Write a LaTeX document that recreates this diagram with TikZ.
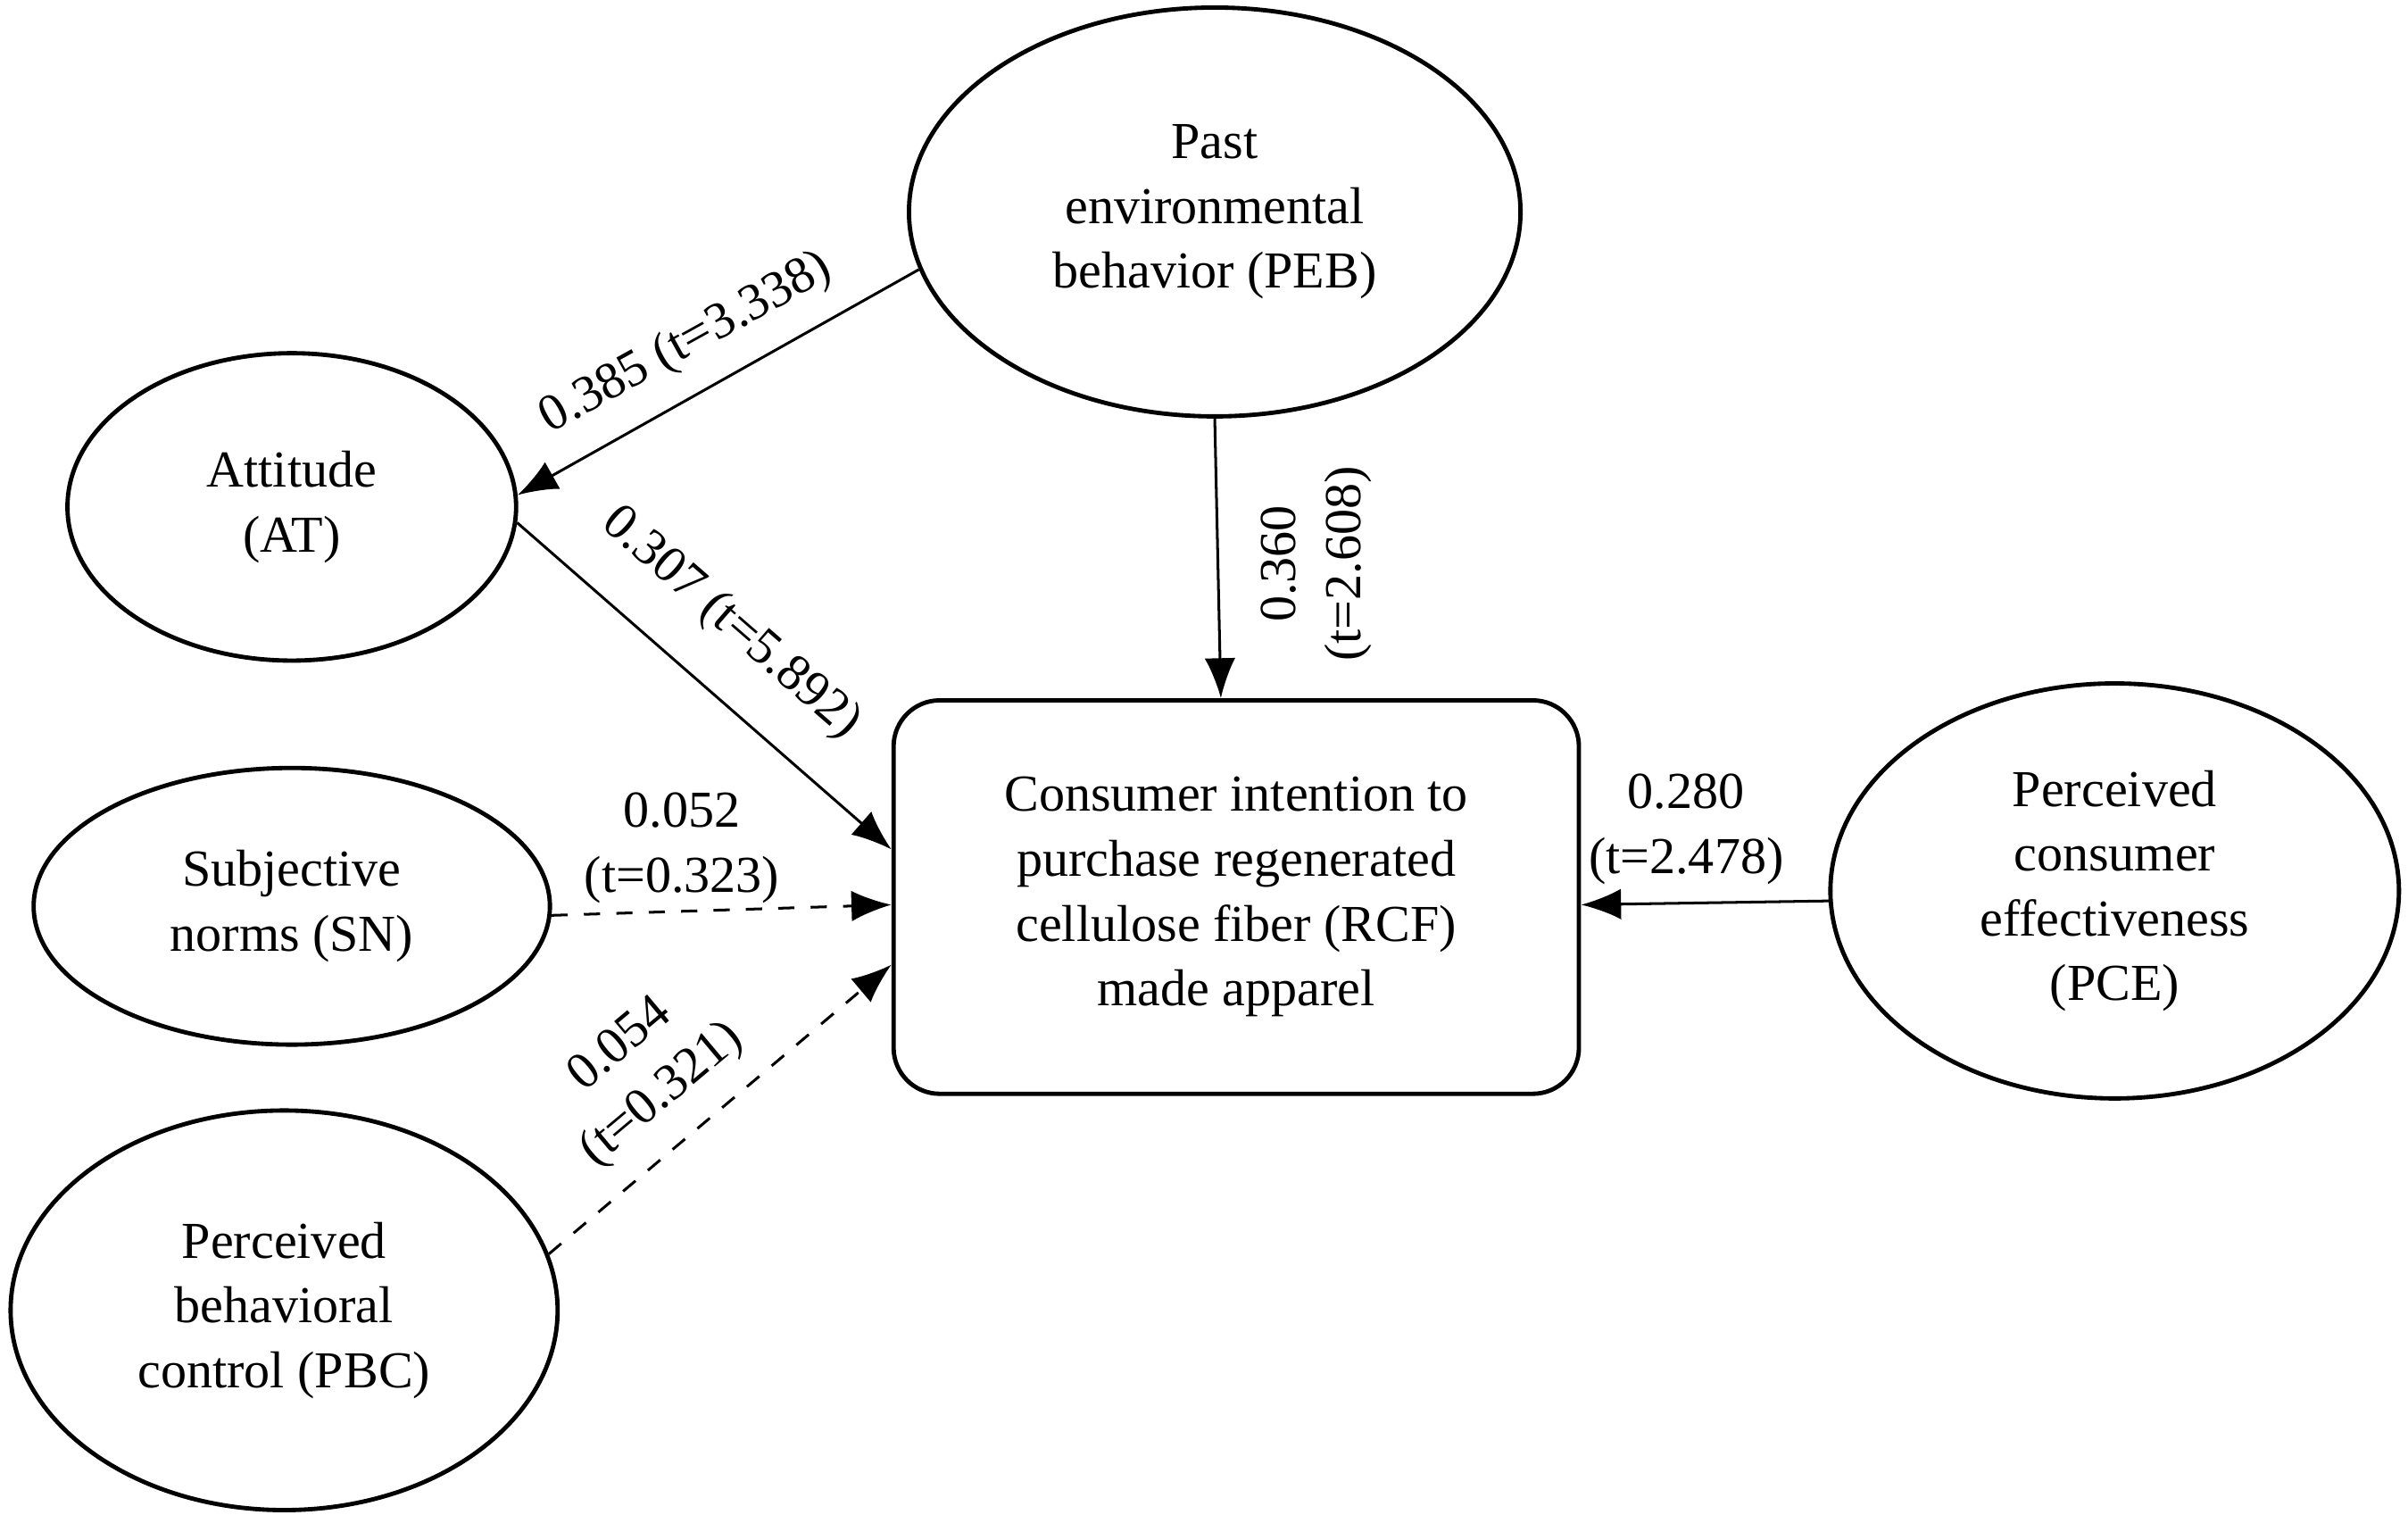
\documentclass[tikz,border=0pt]{standalone}
\usepackage{fontspec}
\setmainfont{Liberation Serif}
\usetikzlibrary{shapes.geometric,arrows.meta}
\begin{document}
\begin{tikzpicture}[x=0.01cm,y=-0.01cm,
  every node/.style={font=\fontsize{9.6}{12}\selectfont, align=center},
  lat/.style={ellipse, draw, line width=0.8pt, inner sep=0pt},
  arr/.style={line width=0.5pt, -{Latex[length=2.6mm,width=2mm]}},
  dsh/.style={arr, dashed},
  lab/.style={inner sep=1pt}]
\useasboundingbox (0,0) rectangle (1568,986);
\node[lat, minimum width=3.98cm, minimum height=2.66cm] (peb) at (791,138) {Past\\environmental\\behavior (PEB)};
\node[lat, minimum width=2.92cm, minimum height=2.0cm] (at) at (190,330) {Attitude\\(AT)};
\node[lat, minimum width=3.36cm, minimum height=1.8cm] (sn) at (190,590) {Subjective\\norms (SN)};
\node[lat, minimum width=3.56cm, minimum height=2.6cm] (pbc) at (185,853) {Perceived\\behavioral\\control (PBC)};
\node[lat, minimum width=3.70cm, minimum height=2.7cm] (pce) at (1377,580) {Perceived\\consumer\\effectiveness\\(PCE)};
\node[draw, line width=0.8pt, rounded corners=0.3cm, minimum width=4.46cm, minimum height=2.56cm] (box) at (805,584) {Consumer intention to\\purchase regenerated\\cellulose fiber (RCF)\\made apparel};
\draw[arr] (peb.191) -- (at.3);
\draw[arr] (peb.south) -- ([xshift=-0.1cm]box.north);
\draw[arr] (at.356) -- ([yshift=0.31cm]box.west);
\draw[dsh] (sn.358) -- ([yshift=-0.05cm]box.west);
\draw[dsh] (pbc.12) -- ([yshift=-0.44cm]box.west);
\draw[arr] (pce.182) -- ([yshift=-0.05cm]box.east);
\node[lab, rotate=29] (l1) at (447,224) {0.385 (t=3.338)};
\node[lab, rotate=90] (l2) at (857,367) {0.360\\(t=2.608)};
\node[lab, rotate=-41] (l3) at (476,406) {0.307 (t=5.892)};
\node[lab] (l4) at (444,552) {0.052\\(t=0.323)};
\node[lab, rotate=40] (l5) at (418,697) {0.054\\(t=0.321)};
\node[lab] (l6) at (1098,540) {0.280\\(t=2.478)};
\end{tikzpicture}
\end{document}
